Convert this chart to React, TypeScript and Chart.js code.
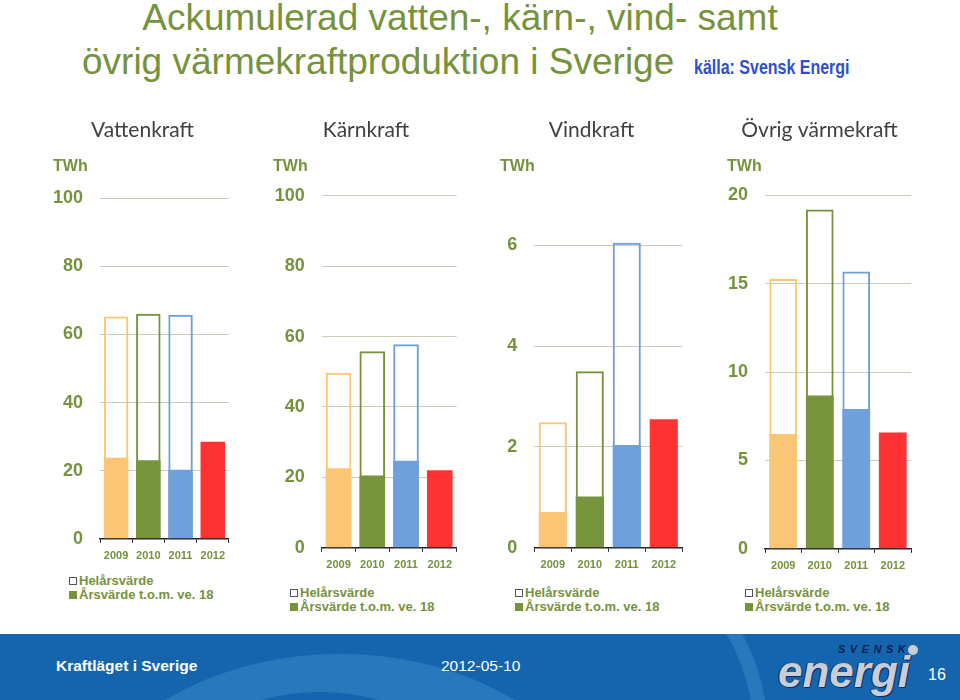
import React, { useEffect, useRef } from 'react';
import { Chart, registerables } from 'chart.js';

Chart.register(...registerables);

// ---------- data ----------
const years = ['2009', '2010', '2011', '2012'];
const yearColors = ['#FAC575', '#77933C', '#6FA0DC', '#FF3333'];

const vattenFull = [65.3, 66.1, 65.8, null];
const vattenYtd = [23.8, 23.1, 20.3, 28.5];
const vattenTicks = [0, 20, 40, 60, 80, 100];

const karnFull = [49.7, 55.8, 57.8, null];
const karnYtd = [22.6, 20.5, 24.7, 22.0];
const karnTicks = [0, 20, 40, 60, 80, 100];

const vindFull = [2.49, 3.5, 6.05, null];
const vindYtd = [0.71, 1.02, 2.04, 2.55];
const vindTicks = [0, 2, 4, 6];

const ovrigFull = [15.27, 19.2, 15.69, null];
const ovrigYtd = [6.49, 8.68, 7.91, 6.58];
const ovrigTicks = [0, 5, 10, 15, 20];

const legendLabels = ['Helårsvärde', 'Årsvärde t.o.m. ve. 18'];

const OLIVE = '#76923C';
const SANS = '"Liberation Sans", Arial, sans-serif';

type PanelProps = {
  title: string;
  full: (number | null)[];
  ytd: number[];
  ticks: number[];
  max: number;
  left: number;
  width: number;
  height: number;
  yWidth: number;
  subPad: number;
  legendLeft: number;
  legendTop: number;
};

function Panel(p: PanelProps) {
  const ref = useRef<HTMLCanvasElement>(null);
  useEffect(() => {
    if (!ref.current) return;
    const chart = new Chart(ref.current, {
      type: 'bar',
      data: {
        labels: years,
        datasets: [
          {
            label: legendLabels[0],
            data: p.full,
            backgroundColor: 'rgba(0,0,0,0)',
            borderColor: yearColors,
            borderWidth: 2,
            grouped: false,
            order: 2,
            barPercentage: 0.76,
            categoryPercentage: 1,
          } as any,
          {
            label: legendLabels[1],
            data: p.ytd,
            backgroundColor: yearColors,
            borderColor: yearColors,
            borderWidth: 0,
            grouped: false,
            order: 1,
            barPercentage: 0.76,
            categoryPercentage: 1,
          } as any,
        ],
      },
      options: {
        responsive: false,
        animation: false,
        layout: { padding: { left: 0, right: 0, top: 0, bottom: 2 } },
        plugins: {
          legend: { display: false },
          tooltip: { enabled: false },
          title: {
            display: true,
            text: p.title,
            color: '#404040',
            font: { family: 'Lato, "Open Sans", sans-serif', size: 21, weight: 'normal' as any, lineHeight: 1.2 },
            padding: { top: 17.4, bottom: 14.8 },
          },
          subtitle: {
            display: true,
            text: 'TWh',
            align: 'start',
            color: OLIVE,
            font: { family: SANS, size: 16, weight: 'bold' as any, lineHeight: 1.2 },
            padding: { top: 0, bottom: p.subPad },
          },
        },
        scales: {
          x: {
            grid: {
              display: true,
              drawOnChartArea: false,
              drawTicks: true,
              tickLength: 4,
              color: '#222222',
              offset: true,
            },
            border: { display: true, color: '#222222', width: 1.5 },
            ticks: {
              color: OLIVE,
              padding: 7,
              font: { family: SANS, size: 11, weight: 'bold' as any, lineHeight: 1.2 },
            },
          },
          y: {
            min: 0,
            max: p.max,
            afterBuildTicks: (scale: any) => {
              scale.ticks = p.ticks.map((v) => ({ value: v }));
            },
            afterFit: (scale: any) => {
              scale.width = p.yWidth;
            },
            grid: { color: '#C8CCB8', lineWidth: 1, drawTicks: false },
            border: { display: false },
            ticks: {
              color: OLIVE,
              padding: 17,
              font: { family: SANS, size: 18, weight: 'bold' as any },
            },
          },
        },
      },
    });
    return () => chart.destroy();
  }, []);

  return (
    <>
      <canvas
        ref={ref}
        width={p.width}
        height={p.height}
        style={{ position: 'absolute', left: p.left, top: 100, width: p.width, height: p.height }}
      />
      <div
        style={{
          position: 'absolute',
          left: p.legendLeft,
          top: p.legendTop,
          font: `bold 13px ${SANS}`,
          color: OLIVE,
          lineHeight: '14.3px',
          whiteSpace: 'nowrap',
        }}
      >
        <div style={{ display: 'flex', alignItems: 'center' }}>
          <span
            style={{
              display: 'inline-block',
              width: 8,
              height: 8,
              boxSizing: 'border-box',
              border: '1px solid #555',
              background: '#fff',
              marginRight: 2,
            }}
          />
          {legendLabels[0]}
        </div>
        <div style={{ display: 'flex', alignItems: 'center' }}>
          <span
            style={{
              display: 'inline-block',
              width: 8,
              height: 8,
              background: '#77933C',
              marginRight: 2,
            }}
          />
          {legendLabels[1]}
        </div>
      </div>
    </>
  );
}

export default function App() {
  return (
    <div
      style={{
        position: 'absolute',
        left: 0,
        top: 0,
        width: 960,
        height: 700,
        overflow: 'hidden',
        background: '#ffffff',
      }}
    >
      <div
        style={{
          position: 'absolute',
          left: 0,
          width: 920,
          top: -1.4,
          textAlign: 'center',
          font: `37px ${SANS}`,
          lineHeight: 1,
          color: OLIVE,
          whiteSpace: 'nowrap',
        }}
      >
        Ackumulerad vatten-, kärn-, vind- samt
      </div>
      <div
        style={{
          position: 'absolute',
          left: 82,
          top: 42.6,
          font: `37px ${SANS}`,
          lineHeight: 1,
          color: OLIVE,
          whiteSpace: 'nowrap',
        }}
      >
        övrig värmekraftproduktion i Sverige
      </div>
      <div
        style={{
          position: 'absolute',
          left: 694,
          top: 57.5,
          font: `bold 19.5px ${SANS}`,
          lineHeight: 1,
          color: '#2E50CC',
          whiteSpace: 'nowrap',
          transform: 'scaleX(0.82)',
          transformOrigin: 'left center',
        }}
      >
        källa: Svensk Energi
      </div>

      <Panel
        title="Vattenkraft"
        full={vattenFull}
        ytd={vattenYtd}
        ticks={vattenTicks}
        max={100}
        left={53}
        width={179}
        height={472}
        yWidth={47}
        subPad={21.7}
        legendLeft={69}
        legendTop={573.5}
      />
      <Panel
        title="Kärnkraft"
        full={karnFull}
        ytd={karnYtd}
        ticks={karnTicks}
        max={100}
        left={273}
        width={186}
        height={481}
        yWidth={48.7}
        subPad={19.1}
        legendLeft={290}
        legendTop={585.5}
      />
      <Panel
        title="Vindkraft"
        full={vindFull}
        ytd={vindYtd}
        ticks={vindTicks}
        max={7}
        left={500}
        width={183}
        height={481}
        yWidth={34.3}
        subPad={18.3}
        legendLeft={515}
        legendTop={585.5}
      />
      <Panel
        title="Övrig värmekraft"
        full={ovrigFull}
        ytd={ovrigYtd}
        ticks={ovrigTicks}
        max={20}
        left={727}
        width={185}
        height={482}
        yWidth={38}
        subPad={18.7}
        legendLeft={745}
        legendTop={585.5}
      />

      {/* footer */}
      <div
        style={{
          position: 'absolute',
          left: 0,
          top: 634,
          width: 960,
          height: 66,
          background: '#1565AE',
          overflow: 'hidden',
        }}
      >
        <div
          style={{
            position: 'absolute',
            left: 60,
            top: 20,
            width: 560,
            height: 420,
            borderRadius: '50%',
            background: '#2A78BC',
          }}
        />
        <div
          style={{
            position: 'absolute',
            left: 150,
            top: 58,
            width: 340,
            height: 260,
            borderRadius: '50%',
            background: '#1565AE',
          }}
        />
        <div
          style={{
            position: 'absolute',
            left: 540,
            top: -60,
            width: 200,
            height: 300,
            borderRadius: '50%',
            border: '14px solid #2A78BC',
            borderLeftColor: 'transparent',
            borderBottomColor: 'transparent',
          }}
        />
        <div
          style={{
            position: 'absolute',
            left: 56,
            top: 24,
            font: `bold 15.5px ${SANS}`,
            lineHeight: 1,
            color: '#ffffff',
            whiteSpace: 'nowrap',
          }}
        >
          Kraftläget i Sverige
        </div>
        <div
          style={{
            position: 'absolute',
            left: 441,
            top: 24,
            font: `15.5px ${SANS}`,
            lineHeight: 1,
            color: '#ffffff',
            whiteSpace: 'nowrap',
          }}
        >
          2012-05-10
        </div>
        <div
          style={{
            position: 'absolute',
            left: 838,
            top: 10,
            font: `italic bold 11px ${SANS}`,
            lineHeight: 1,
            letterSpacing: 4.5,
            color: '#08234D',
            whiteSpace: 'nowrap',
          }}
        >
          SVENSK
        </div>
        <div
          style={{
            position: 'absolute',
            left: 908,
            top: 11,
            width: 10,
            height: 10,
            borderRadius: '50%',
            background: '#C8CDD6',
          }}
        />
        <div
          style={{
            position: 'absolute',
            left: 778,
            top: 16,
            font: `italic bold 44px ${SANS}`,
            lineHeight: 1,
            color: '#C8CDD6',
            whiteSpace: 'nowrap',
            textShadow: '1px 1px 0 #0B2D60, -1px 0 0 #0B2D60',
          }}
        >
          energi
        </div>
        <div
          style={{
            position: 'absolute',
            left: 928,
            top: 33,
            font: `16px ${SANS}`,
            lineHeight: 1,
            color: '#ffffff',
          }}
        >
          16
        </div>
      </div>
    </div>
  );
}
